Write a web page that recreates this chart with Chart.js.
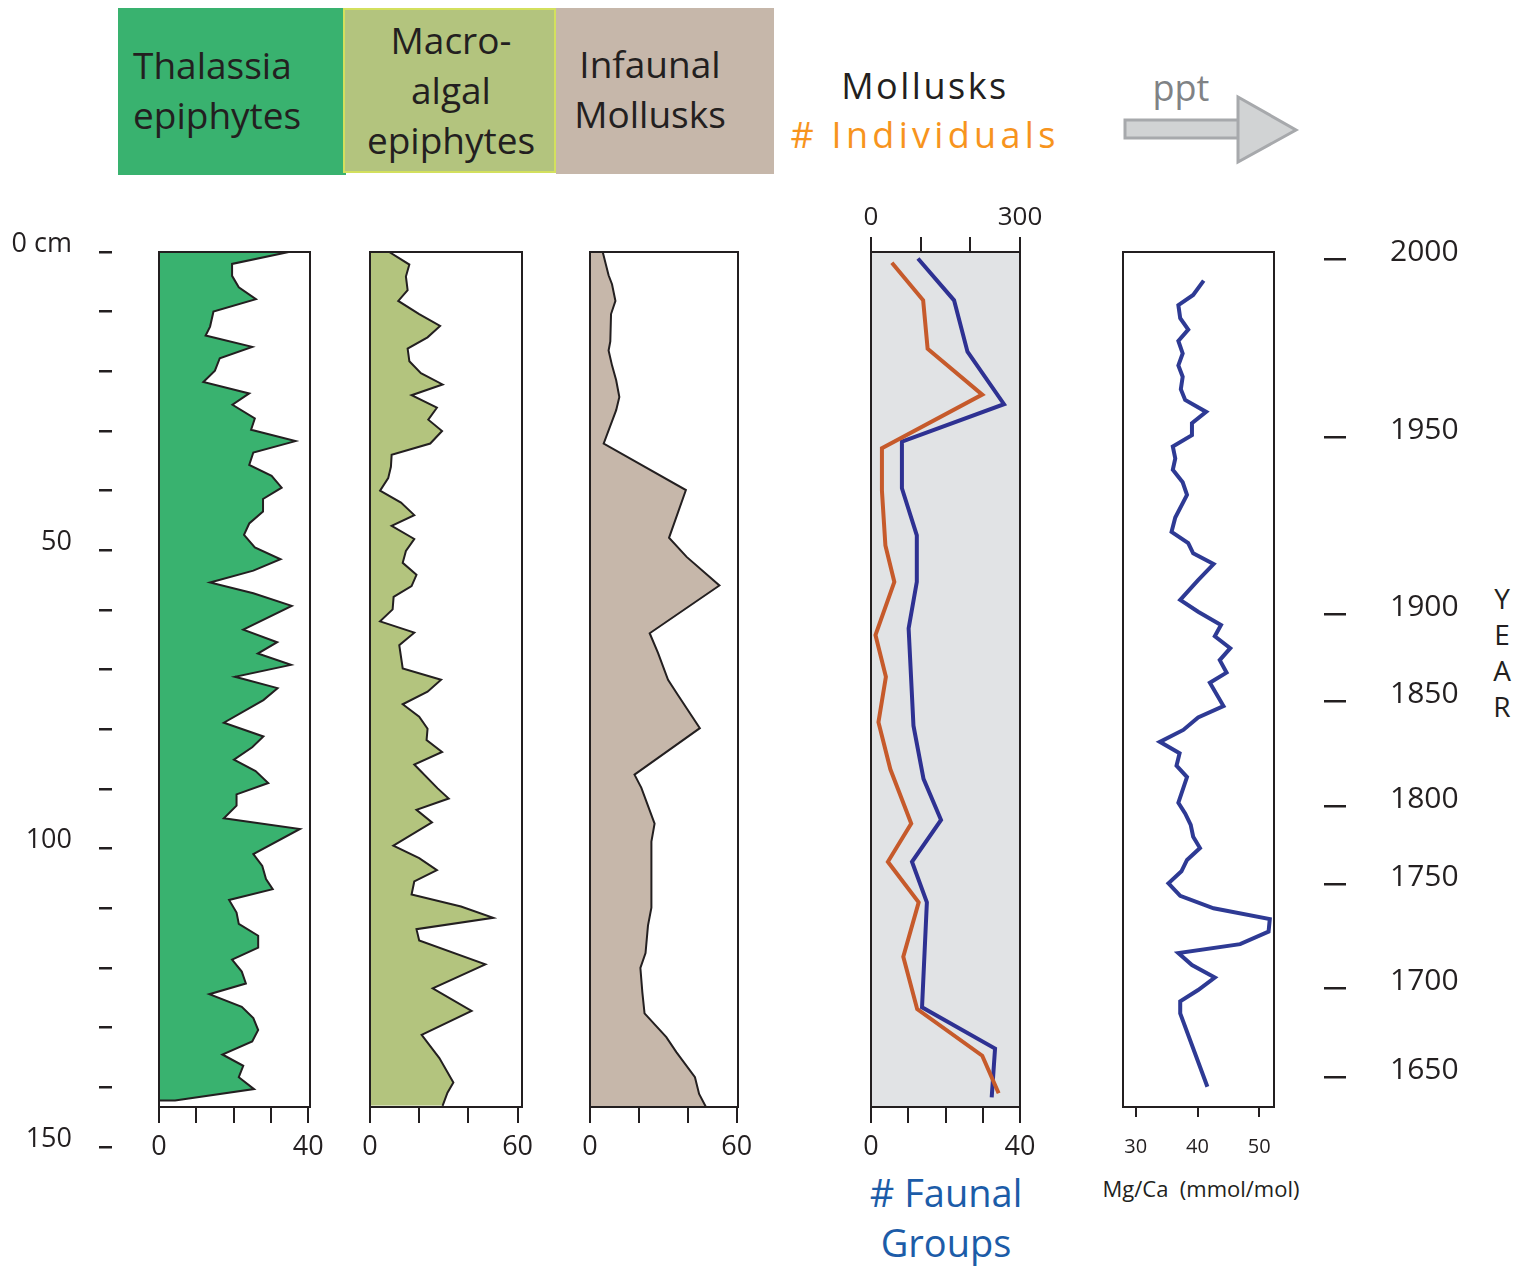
<!DOCTYPE html>
<html>
<head>
<meta charset="utf-8">
<script src="https://cdn.jsdelivr.net/npm/chart.js@4.4.1/dist/chart.umd.min.js"></script>
<style>
  body { margin: 0; width: 1530px; height: 1266px; background: #fff; position: relative; overflow: hidden;
         font-family: 'Open Sans', sans-serif; color: #231f20; }
  canvas, .t, .box, svg { position: absolute; }
  .box { box-sizing: border-box; }
  .hd { font-size: 37px; line-height: 50px; }
</style>
</head>
<body>
<div class="box" style="left:118px;top:8px;width:228px;height:167px;background:#39b26f;"></div>
<div class="box" style="left:343px;top:8px;width:213px;height:165px;background:#b3c47e;border:2px solid #d3e05e;"></div>
<div class="box" style="left:556px;top:8px;width:218px;height:166px;background:#c6b7aa;"></div>
<div class="t hd" style="left:133px;top:40px;">Thalassia<br>epiphytes</div>
<div class="t hd" style="left:343px;top:15px;width:216px;text-align:center;">Macro-<br>algal<br>epiphytes</div>
<div class="t hd" style="left:556px;top:39px;width:188px;text-align:center;">Infaunal<br>Mollusks</div>
<div class="t" style="left:800px;top:61px;width:250px;text-align:center;font-size:36px;line-height:50px;letter-spacing:2.5px;">Mollusks</div>
<div class="t" style="left:760px;top:110px;width:330px;text-align:center;font-size:36px;line-height:50px;letter-spacing:4.3px;color:#f7941d;"># Individuals</div>
<div class="t" style="left:1131px;top:63px;width:100px;text-align:center;font-size:36px;line-height:50px;color:#808285;">ppt</div>
<svg style="left:1120px;top:92px;" width="185" height="75">
  <rect x="5" y="28" width="116" height="18" fill="#d1d3d4" stroke="#a7a9ac" stroke-width="3"/>
  <polygon points="118,5 176,38 118,70" fill="#d1d3d4" stroke="#a7a9ac" stroke-width="3"/>
</svg>
<div class="t" style="left:846px;top:1167px;width:200px;text-align:center;font-size:38px;line-height:50px;color:#1c5ca8;"># Faunal<br>Groups</div>
<div class="t" style="left:1081px;top:1172px;width:240px;text-align:center;font-size:22px;line-height:32px;">Mg/Ca&nbsp;&nbsp;(mmol/mol)</div>
<div class="t" style="left:1482px;top:580px;width:40px;text-align:center;font-size:28px;line-height:36px;">Y<br>E<br>A<br>R</div>

<canvas id="depthAxis" width="140" height="1035" style="left:0px;top:182px;"></canvas>
<canvas id="thal" width="211" height="945" style="left:129px;top:232px;"></canvas>
<canvas id="macro" width="212" height="945" style="left:340px;top:232px;"></canvas>
<canvas id="infauna" width="208" height="945" style="left:560px;top:232px;"></canvas>
<canvas id="moll" width="209" height="995" style="left:841px;top:182px;"></canvas>
<canvas id="mgca" width="211" height="945" style="left:1093px;top:232px;"></canvas>
<canvas id="yearAxis" width="230" height="1035" style="left:1300px;top:182px;"></canvas>

<script>
// depth axis (cm) and age model ticks
const depthTicks = [0, 10, 20, 30, 40, 50, 60, 70, 80, 90, 100, 110, 120, 130, 140, 150];
const depthTickLabels = ['0 cm', '', '', '', '', '50', '', '', '', '', '100', '', '', '', '', '150'];
const yearTickDepths = [1.2, 31.0, 60.7, 75.3, 92.9, 106.0, 123.4, 138.3];
const yearLabels = ['2000', '1950', '1900', '1850', '1800', '1750', '1700', '1650'];

// Thalassia epiphytes
const thalDepth = [0, 2.0, 4.0, 5.9, 7.9, 10.0, 12.5, 14.0, 15.9, 17.8, 19.9, 21.8, 23.7, 25.6, 27.9, 29.8, 31.7, 33.6, 35.7, 37.5,
  39.5, 41.4, 43.5, 45.5, 47.4, 49.5, 51.5, 53.4, 55.4, 57.2, 59.3, 63.3, 65.4, 67.3, 69.2, 71.2, 73.1, 75.1, 78.9, 81.2,
  83.0, 85.1, 87.0, 89.0, 90.9, 92.8, 94.9, 96.7, 100.9, 102.9, 105.1, 106.8, 108.6, 110.7, 112.6, 114.6, 116.6, 118.6, 120.6, 122.6,
  124.4, 126.5, 128.4, 130.4, 132.3, 134.5, 136.4, 138.3, 140.3, 142.2, 142.2];
const thalValues = [34.8, 19.6, 19.6, 21.4, 26.0, 14.6, 13.7, 12.5, 25.0, 16.3, 15.0, 11.9, 24.2, 19.7, 25.7, 24.7, 36.6, 25.3, 24.2, 30.2,
  32.9, 27.9, 27.9, 24.2, 22.8, 25.7, 32.6, 25.3, 13.7, 25.3, 35.6, 22.6, 31.7, 26.5, 35.4, 20.4, 31.8, 28.0, 17.4, 28.0,
  25.0, 20.1, 25.9, 29.3, 20.8, 20.8, 17.4, 37.8, 25.3, 27.7, 28.7, 30.5, 18.8, 20.8, 21.4, 26.6, 26.6, 19.6, 22.2, 23.3,
  13.5, 22.2, 25.3, 26.6, 25.0, 17.0, 22.6, 21.4, 25.5, 4.3, 0];
const thalTicks = [0, 10, 20, 30, 40];
const thalTickLabels = ['0', '', '', '', '40'];

// Macroalgal epiphytes
const macroDepth = [0, 2.1, 4.1, 6.4, 8.2, 10.4, 12.4, 14.3, 16.2, 18.3, 20.3, 22.2, 24.0, 26.1, 28.1, 30.0, 32.1, 34.0, 36.0, 37.9,
  40.0, 42.0, 44.1, 45.9, 48.1, 50.1, 52.1, 54.1, 56.0, 57.8, 59.9, 61.9, 63.8, 65.9, 69.8, 71.7, 73.7, 75.8, 77.9, 79.9,
  81.8, 83.8, 85.9, 89.9, 91.6, 93.5, 95.6, 99.5, 101.6, 103.6, 105.5, 107.7, 109.7, 111.6, 113.5, 115.4, 119.4, 123.4, 127.2, 131.2,
  135.1, 139.2, 140.9, 143.1];
const macroValues = [7.8, 16.0, 14.6, 15.3, 11.5, 20.0, 28.5, 23.4, 15.3, 16.0, 20.7, 29.5, 16.9, 27.2, 23.7, 29.3, 24.5, 8.8, 8.5, 7.4,
  4.1, 12.6, 18.0, 8.8, 18.0, 14.6, 13.3, 18.9, 16.9, 9.6, 9.2, 4.1, 18.0, 11.9, 13.3, 28.9, 23.4, 13.3, 20.0, 23.4,
  23.0, 29.3, 18.0, 27.5, 32.0, 18.9, 25.2, 9.5, 20.0, 27.2, 18.0, 16.9, 37.0, 50.1, 18.9, 20.0, 46.9, 25.5, 41.3, 21.0,
  28.2, 33.9, 31.5, 29.5];
const macroTicks = [0, 20, 40, 60];
const macroTickLabels = ['0', '', '', '60'];

// Infaunal mollusks
const infDepth = [0, 3.9, 5.4, 8.2, 10.4, 15.0, 16.5, 19.0, 21.5, 24.3, 26.5, 32.1, 39.9, 47.9, 51.1, 55.9, 63.9, 67.2, 71.7, 74.3,
  79.8, 87.6, 89.8, 93.6, 95.8, 98.8, 109.9, 112.9, 117.5, 120.0, 124.1, 127.6, 131.6, 134.1, 138.3, 141.1, 143.3];
const infValues = [5.2, 7.6, 9.0, 10.4, 8.6, 8.3, 7.6, 9.0, 10.7, 12.0, 10.7, 5.6, 39.2, 32.3, 39.5, 52.9, 24.4, 27.8, 31.9, 36.0,
  44.9, 18.2, 21.0, 24.4, 26.4, 25.1, 25.1, 23.7, 22.7, 20.6, 21.4, 22.3, 31.2, 35.3, 42.9, 44.6, 47.4];
const infTicks = [0, 20, 40, 60];
const infTickLabels = ['0', '', '', '60'];

// Mollusks: # faunal groups (bottom axis) and # individuals (top axis)
const faunalDepth = [1.1, 8.1, 16.7, 25.5, 31.8, 39.6, 47.5, 55.3, 63.1, 79.4, 88.3, 95.2, 102.2, 109.0, 126.6, 133.5, 141.7];
const faunalGroups = [12.6, 22.3, 25.9, 35.7, 8.3, 8.3, 12.3, 12.3, 10.1, 11.4, 14.1, 18.8, 11.0, 15.0, 13.7, 33.3, 32.4];
const indivDepth = [1.8, 8.1, 16.2, 23.9, 32.9, 40.0, 49.2, 55.3, 64.2, 71.2, 78.8, 86.7, 95.8, 102.2, 109.0, 118.1, 126.9, 134.7, 141.0];
const individuals = [42, 105, 114, 224, 22, 22, 29, 47, 9, 30, 15, 39, 81, 34, 96, 65, 93, 224, 257];
const faunalTicks = [0, 10, 20, 30, 40];
const faunalTickLabels = ['0', '', '', '', '40'];
const indivTicks = [0, 100, 200, 300];
const indivTickLabels = ['0', '', '', '300'];

// Mg/Ca (mmol/mol)
const mgDepth = [4.8, 7.2, 8.9, 11.1, 13.0, 14.9, 17.0, 19.0, 20.9, 23.0, 24.8, 26.8, 28.7, 30.7, 32.6, 34.6, 36.5, 38.6, 40.7, 44.5,
  46.9, 48.8, 50.5, 52.3, 55.0, 58.3, 60.3, 62.5, 64.4, 66.4, 68.4, 70.5, 72.2, 76.1, 78.0, 80.1, 82.1, 84.0, 86.1, 88.0,
  92.3, 94.1, 96.0, 98.0, 99.9, 101.9, 103.8, 105.8, 107.9, 110.0, 111.8, 113.9, 116.0, 117.5, 119.5, 121.6, 123.7, 125.6, 127.6, 139.9];
const mgCa = [41.0, 39.3, 36.9, 37.2, 38.5, 36.9, 37.6, 36.9, 37.6, 37.3, 38.0, 41.4, 39.1, 39.1, 36.0, 36.4, 36.0, 37.6, 38.3, 36.4,
  35.8, 38.5, 39.3, 42.6, 40.1, 37.2, 40.1, 43.8, 42.8, 45.3, 43.6, 44.7, 42.0, 44.2, 40.1, 37.7, 33.9, 37.1, 36.6, 38.3,
  36.9, 38.0, 38.9, 39.3, 40.4, 38.3, 37.4, 35.3, 37.2, 42.6, 51.7, 51.5, 46.9, 36.9, 39.1, 42.8, 40.1, 37.2, 37.2, 41.6];
const mgTicks = [30, 40, 50];
const mgTickLabels = ['30', '40', '50'];

const INK = '#231f20';
Chart.defaults.font.family = "'Open Sans', sans-serif";
Chart.defaults.color = INK;

const pts = (depth, vals) => depth.map((d, i) => ({ x: vals[i], y: d }));

// box around the plot area, optional background
const framePlugin = {
  id: 'frame',
  beforeDatasetsDraw(chart, args, opts) {
    const a = chart.chartArea, ctx = chart.ctx;
    if (opts.bg) {
      ctx.save();
      ctx.fillStyle = opts.bg;
      ctx.fillRect(a.left, a.top, a.right - a.left, a.bottom - a.top);
      ctx.restore();
    }
  },
  afterDatasetsDraw(chart) {
    const a = chart.chartArea, ctx = chart.ctx;
    ctx.save();
    ctx.strokeStyle = INK;
    ctx.lineWidth = 2;
    ctx.strokeRect(a.left, a.top, a.right - a.left, a.bottom - a.top);
    ctx.restore();
  }
};

function xAxis(pos, min, max, ticks, labels, o) {
  return {
    type: 'linear', position: pos, min: min, max: max,
    afterBuildTicks: s => { s.ticks = ticks.map(v => ({ value: v })); },
    afterFit: s => { s.height = o.h; },
    border: { display: false },
    grid: { drawOnChartArea: false, tickLength: o.tl, lineWidth: 2, color: INK },
    ticks: { autoSkip: false, maxRotation: 0, padding: o.pad, font: { size: o.fs },
             callback: (v, i) => labels[i] }
  };
}

function panel(id, datasets, xScales, bg) {
  const scales = Object.assign({
    y: { type: 'linear', min: 0, max: 143.3, reverse: true, display: false }
  }, xScales);
  return new Chart(document.getElementById(id), {
    type: 'line',
    data: { datasets: datasets },
    options: {
      indexAxis: 'y', responsive: false, animation: false,
      layout: { padding: { top: 20, bottom: 10, left: 30, right: 30 } },
      elements: { point: { radius: 0 } },
      plugins: { legend: { display: false }, tooltip: { enabled: false }, frame: { bg: bg } },
      scales: scales
    },
    plugins: [framePlugin]
  });
}

const bottom27 = { h: 60, tl: 16, pad: 8, fs: 27 };

panel('thal', [{
  data: pts(thalDepth, thalValues), borderColor: INK, borderWidth: 2,
  backgroundColor: '#39b26f', fill: 'origin'
}], { x: xAxis('bottom', 0, 40.5, thalTicks, thalTickLabels, bottom27) });

panel('macro', [{
  data: pts(macroDepth, macroValues), borderColor: INK, borderWidth: 2,
  backgroundColor: '#b3c47e', fill: 'origin'
}], { x: xAxis('bottom', 0, 61.8, macroTicks, macroTickLabels, bottom27) });

panel('infauna', [{
  data: pts(infDepth, infValues), borderColor: INK, borderWidth: 2,
  backgroundColor: '#c6b7aa', fill: 'origin'
}], { x: xAxis('bottom', 0, 60.5, infTicks, infTickLabels, bottom27) });

// mollusk panel has a top axis as well, so it is built by hand
new Chart(document.getElementById('moll'), {
  type: 'line',
  data: {
    datasets: [
      { data: pts(indivDepth, individuals), xAxisID: 'xTop', borderColor: '#c65a2b', borderWidth: 4, fill: false },
      { data: pts(faunalDepth, faunalGroups), xAxisID: 'x', borderColor: '#2e3192', borderWidth: 4, fill: false }
    ]
  },
  options: {
    indexAxis: 'y', responsive: false, animation: false,
    layout: { padding: { top: 20, bottom: 10, left: 30, right: 30 } },
    elements: { point: { radius: 0 } },
    plugins: { legend: { display: false }, tooltip: { enabled: false }, frame: { bg: '#e1e3e5' } },
    scales: {
      y: { type: 'linear', min: 0, max: 143.3, reverse: true, display: false },
      x: xAxis('bottom', 0, 40, faunalTicks, faunalTickLabels, bottom27),
      xTop: xAxis('top', 0, 300, indivTicks, indivTickLabels, { h: 50, tl: 15, pad: 4, fs: 26 })
    }
  },
  plugins: [framePlugin]
});

panel('mgca', [{
  data: pts(mgDepth, mgCa), borderColor: '#2e3a94', borderWidth: 4, fill: false
}], { x: xAxis('bottom', 27.94, 52.38, mgTicks, mgTickLabels, { h: 60, tl: 10, pad: 18, fs: 20 }) });

// depth (left) and year (right) axes: label-only charts sharing the same depth scale
function sideAxis(id, pos, width, ticks, labels, o) {
  return new Chart(document.getElementById(id), {
    type: 'line',
    data: { datasets: [] },
    options: {
      responsive: false, animation: false,
      layout: { padding: { top: 70, bottom: 70, left: 0, right: 0 } },
      plugins: { legend: { display: false }, tooltip: { enabled: false } },
      scales: {
        x: { type: 'linear', min: 0, max: 1, display: false },
        y: {
          type: 'linear', position: pos, min: 0, max: 150, reverse: true,
          afterBuildTicks: s => { s.ticks = ticks.map(v => ({ value: v })); },
          afterFit: s => { s.width = width; },
          border: { display: false },
          grid: { drawOnChartArea: false, tickLength: o.tl, lineWidth: 2.5, color: INK },
          ticks: { autoSkip: false, padding: o.pad, labelOffset: o.off, font: { size: o.fs },
                   callback: (v, i) => labels[i] }
        }
      }
    }
  });
}

sideAxis('depthAxis', 'left', 112, depthTicks, depthTickLabels, { tl: 13, pad: 27, off: -8, fs: 27 });
sideAxis('yearAxis', 'right', 206, yearTickDepths, yearLabels, { tl: 22, pad: 44, off: -7, fs: 30 });
</script>
</body>
</html>
